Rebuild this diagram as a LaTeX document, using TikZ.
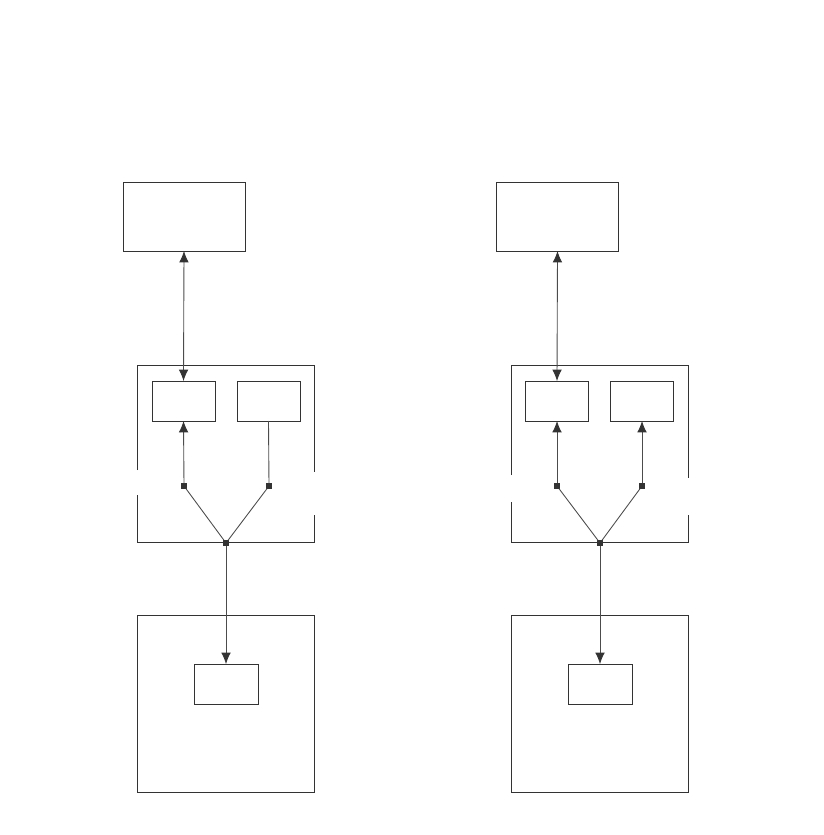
\documentclass[tikz,border=0pt]{standalone}
\usetikzlibrary{arrows.meta}

\tikzset{
  box/.style={draw=black!80, line width=0.5pt, inner sep=0pt, outer sep=0pt},
  frame/.style={draw=black!80, line width=0.5pt},
  link/.style={draw=black!70, line width=0.5pt},
  dot/.style={fill=black!80, inner sep=0pt, outer sep=0pt, minimum size=3pt},
}

\begin{document}
\begin{tikzpicture}[x=0.02cm, y=-0.02cm, >={Latex[length=6.5pt,width=5.5pt,color=black!80]}]
  \useasboundingbox (0,0) rectangle (823,835);
  % left column
  \node[box, minimum width=2.44cm, minimum height=1.38cm] (top1) at (184,216.5) {};
  \draw[frame] (137,470) -- (137,365) -- (314,365) -- (314,472);
  \draw[frame] (314,515) -- (314,542) -- (137,542) -- (137,495);
  \node[box, minimum width=1.26cm, minimum height=0.8cm] (inA1) at (183.5,401) {};
  \node[box, minimum width=1.26cm, minimum height=0.8cm] (inB1) at (268.5,401) {};
  \node[dot] (pA1) at (184,486) {};
  \node[dot] (pB1) at (269,486) {};
  \node[dot] (hub1) at (226,543) {};
  \draw[frame] (137,615) rectangle (314,792);
  \node[box, minimum width=1.28cm, minimum height=0.8cm] (low1) at (226,684) {};
  \draw[link, <->] (top1.south) -- (inA1.north);
  \draw[link, ->] (pA1) -- (inA1.south);
  \draw[link] (pB1) -- (inB1.south);
  \draw[link] (hub1) -- (pA1);
  \draw[link] (hub1) -- (pB1);
  \draw[link, ->] (hub1) -- (low1.north);
  % right column
  \node[box, minimum width=2.44cm, minimum height=1.38cm] (top2) at (557.5,216.5) {};
  \draw[frame] (511,475) -- (511,365) -- (688,365) -- (688,478);
  \draw[frame] (688,515) -- (688,542) -- (511,542) -- (511,502);
  \node[box, minimum width=1.26cm, minimum height=0.8cm] (inA2) at (557,401) {};
  \node[box, minimum width=1.26cm, minimum height=0.8cm] (inB2) at (642,401) {};
  \node[dot] (pA2) at (557,486) {};
  \node[dot] (pB2) at (642,486) {};
  \node[dot] (hub2) at (600,543) {};
  \draw[frame] (511,615) rectangle (688,792);
  \node[box, minimum width=1.28cm, minimum height=0.8cm] (low2) at (600,684) {};
  \draw[link, <->] (top2.south) -- (inA2.north);
  \draw[link, ->] (pA2) -- (inA2.south);
  \draw[link, ->] (pB2) -- (inB2.south);
  \draw[link] (hub2) -- (pA2);
  \draw[link] (hub2) -- (pB2);
  \draw[link, ->] (hub2) -- (low2.north);
\end{tikzpicture}
\end{document}
